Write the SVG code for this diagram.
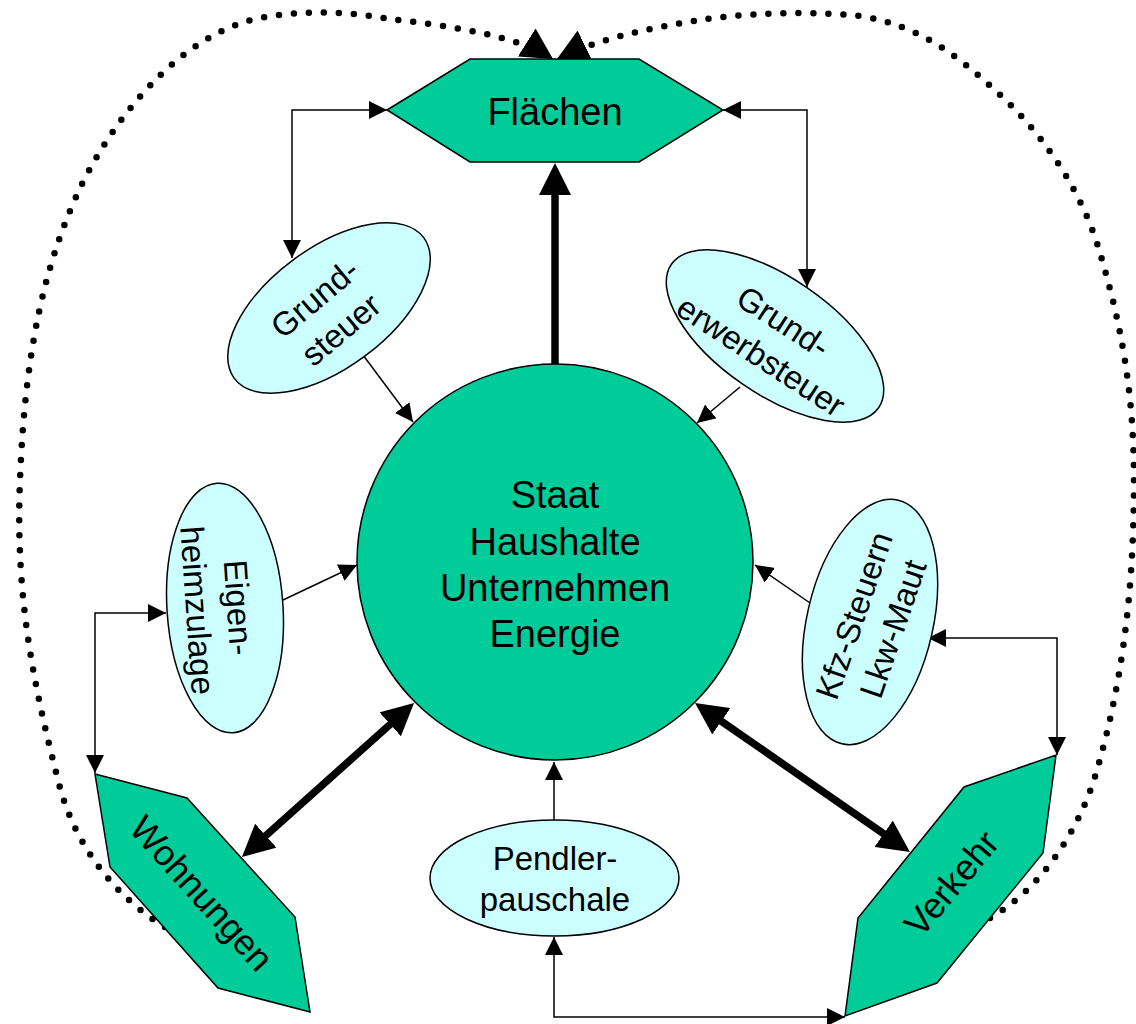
<svg xmlns="http://www.w3.org/2000/svg" width="1136" height="1024" viewBox="0 0 1136 1024">
<style>
.hex{fill:#00CC99;stroke:#000;stroke-width:1.5}
.ell{fill:#CCFFFF;stroke:#000;stroke-width:1.5}
.t{font-family:"Liberation Sans",Arial,sans-serif;fill:#000;text-anchor:middle}
.thin{fill:none;stroke:#000;stroke-width:1.5;marker-end:url(#sm)}
.both{marker-start:url(#sm)}
.thick{fill:none;stroke:#000;stroke-width:7.5;marker-end:url(#big)}
.dot{fill:none;stroke:#000;stroke-width:6.5;stroke-linecap:round;stroke-dasharray:0 15;marker-end:url(#dm)}
</style>
<defs>
<marker id="sm" markerUnits="userSpaceOnUse" markerWidth="18" markerHeight="18" viewBox="0 0 18 18" refX="18" refY="9" orient="auto-start-reverse"><path d="M0,0 L18,9 L0,18 z" fill="#000" stroke="none"/></marker>
<marker id="big" markerUnits="userSpaceOnUse" markerWidth="32" markerHeight="32" viewBox="0 0 32 32" refX="2" refY="16" orient="auto-start-reverse"><path d="M0,0 L32,16 L0,32 z" fill="#000" stroke="none"/></marker>
<marker id="dm" markerUnits="userSpaceOnUse" markerWidth="31" markerHeight="33" viewBox="0 0 31 33" refX="31" refY="16.5" orient="auto"><path d="M0,0 L31,16.5 L0,33 z" fill="#000" stroke="none"/></marker>
</defs>

<g id="connectors">
<path class="dot" d="M165,927 C120,900 75,850 58,780 C35,690 15,600 20,480 C25,350 45,260 83,182 C125,100 185,40 247,21 C300,8 350,12 390,19 C450,26 515,35 553,59"/>
<path class="dot" d="M990,918 C1040,890 1080,830 1097,770 C1120,690 1134,600 1134,480 C1134,390 1120,320 1100,253 C1085,200 1050,140 997,92 C960,58 920,25 860,16 C800,10 740,14 700,20 C650,28 600,38 557,59"/>
<path class="thick" d="M555,364 L555,193"/>
<path class="thick" style="marker-start:url(#big)" d="M391.7,723 L264.3,837"/>
<path class="thick" style="marker-start:url(#big)" d="M719.7,720.1 L885.3,834.9"/>
<path class="thin both" d="M387,110 H292 V258"/>
<path class="thin both" d="M723,110 H807 V287"/>
<path class="thin" d="M363,355 L413,422"/>
<path class="thin" d="M740,387 L697,423"/>
<path class="thin" d="M283,600 L357,565"/>
<path class="thin both" d="M166,613 H95 V773"/>
<path class="thin" d="M813,605 L755,565"/>
<path class="thin both" d="M928,638 H1057 V755"/>
<path class="thin" d="M554,820 V762"/>
<path class="thin both" d="M554,937 V1017 H845"/>
</g>

<g id="flaechen">
<polygon class="hex" points="387,110 470,59 639,59 723,110 639,162 470,162"/>
<text class="t" x="555" y="125" font-size="38">Flächen</text>
</g>

<g id="zentrum">
<circle cx="555" cy="562" r="198" fill="#00CC99" stroke="#000" stroke-width="1.5"/>
<text class="t" font-size="38"><tspan x="555" y="508">Staat</tspan><tspan x="555" y="555">Haushalte</tspan><tspan x="555" y="601">Unternehmen</tspan><tspan x="555" y="647">Energie</tspan></text>
</g>

<g id="wohnungen">
<polygon class="hex" points="95,774 187,798 295,917 310,1012 218,988 110,867"/>
<text class="t" font-size="36" transform="translate(202,893) rotate(48)" x="0" y="13">Wohnungen</text>
</g>

<g id="verkehr">
<polygon class="hex" points="1056,755 1043,853 937,983 845,1016 858,918 964,787"/>
<text class="t" font-size="36" transform="translate(951,883) rotate(-50)" x="0" y="13">Verkehr</text>
</g>

<g id="grundsteuer">
<ellipse class="ell" cx="0" cy="0" rx="118" ry="60" transform="translate(329,308) rotate(-36.6)"/>
<text class="t" font-size="33" transform="translate(327.5,313.5) rotate(-40)"><tspan x="0" y="-8.5">Grund-</tspan><tspan x="0" y="32.5">steuer</tspan></text>
</g>

<g id="grunderwerbsteuer">
<ellipse class="ell" cx="0" cy="0" rx="126" ry="58" transform="translate(775,336) rotate(34.7)"/>
<text class="t" font-size="33" transform="translate(772.5,338.5) rotate(33)"><tspan x="0" y="-8.5">Grund-</tspan><tspan x="0" y="32.5">erwerbsteuer</tspan></text>
</g>

<g id="eigenheimzulage">
<ellipse class="ell" cx="0" cy="0" rx="125" ry="58" transform="translate(225,608) rotate(86.3)"/>
<text class="t" font-size="33" transform="translate(218.5,609) rotate(86)"><tspan x="0" y="-8.5">Eigen-</tspan><tspan x="0" y="32.5">heimzulage</tspan></text>
</g>

<g id="kfz">
<ellipse class="ell" cx="0" cy="0" rx="125" ry="63" transform="translate(870,622) rotate(-77)"/>
<text class="t" font-size="33" transform="translate(873,622) rotate(-71)"><tspan x="0" y="-8.5">Kfz-Steuern</tspan><tspan x="0" y="32.5">Lkw-Maut</tspan></text>
</g>

<g id="pendler">
<ellipse class="ell" cx="554.5" cy="878" rx="124.5" ry="58"/>
<text class="t" font-size="33"><tspan x="555" y="870">Pendler-</tspan><tspan x="555" y="911">pauschale</tspan></text>
</g>
</svg>
